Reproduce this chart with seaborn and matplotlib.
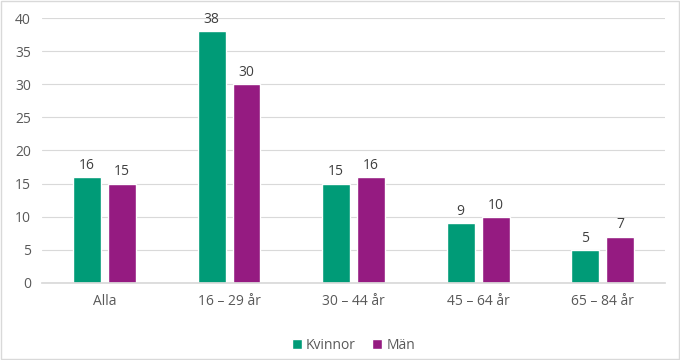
import seaborn as sns
import matplotlib.pyplot as plt
import pandas as pd
from matplotlib.patches import Rectangle

# data
categories = ["Alla", "16 – 29 år", "30 – 44 år", "45 – 64 år", "65 – 84 år"]
kvinnor = [16, 38, 15, 9, 5]
man = [15, 30, 16, 10, 7]
series = ["Kvinnor", "Män"]
colors = ["#009B77", "#951B81"]

df = pd.DataFrame({
    "Grupp": categories * 2,
    "Kön": [series[0]] * len(categories) + [series[1]] * len(categories),
    "Andel": kvinnor + man,
})

sns.set_theme(style="white")
plt.rcParams["font.family"] = ["Open Sans", "DejaVu Sans"]

fig = plt.figure(figsize=(6.8, 3.6), dpi=100)
ax = fig.add_axes([0.062, 0.214, 0.916, 0.736])

sns.barplot(data=df, x="Grupp", y="Andel", hue="Kön", palette=colors,
            width=0.56, gap=0.2, ax=ax, saturation=1)

for cont in ax.containers:
    ax.bar_label(cont, fmt="%d", padding=3, fontsize=10, color="#404040")

ax.set_ylim(0, 40)
ax.set_xlim(-0.5, 4.5)
ax.set_yticks(range(0, 41, 5))
ax.yaxis.grid(True, color="#d9d9d9", linewidth=0.8)
ax.set_axisbelow(True)
for s in ["top", "right", "left"]:
    ax.spines[s].set_visible(False)
ax.spines["bottom"].set_color("#d9d9d9")
ax.tick_params(axis="both", length=0, labelsize=10, colors="#595959", pad=8)
ax.set_xlabel("")
ax.set_ylabel("")

ax.legend(loc="upper center", bbox_to_anchor=(0.5, -0.16), ncol=2, frameon=False,
          fontsize=10, handlelength=0.7, handleheight=0.7, handletextpad=0.3,
          columnspacing=1.2, labelcolor="#595959")

fig.patches.append(Rectangle((0.002, 0.003), 0.996, 0.994, transform=fig.transFigure,
                             fill=False, edgecolor="#d9d9d9", linewidth=1))

plt.savefig("out.png", dpi=100)
